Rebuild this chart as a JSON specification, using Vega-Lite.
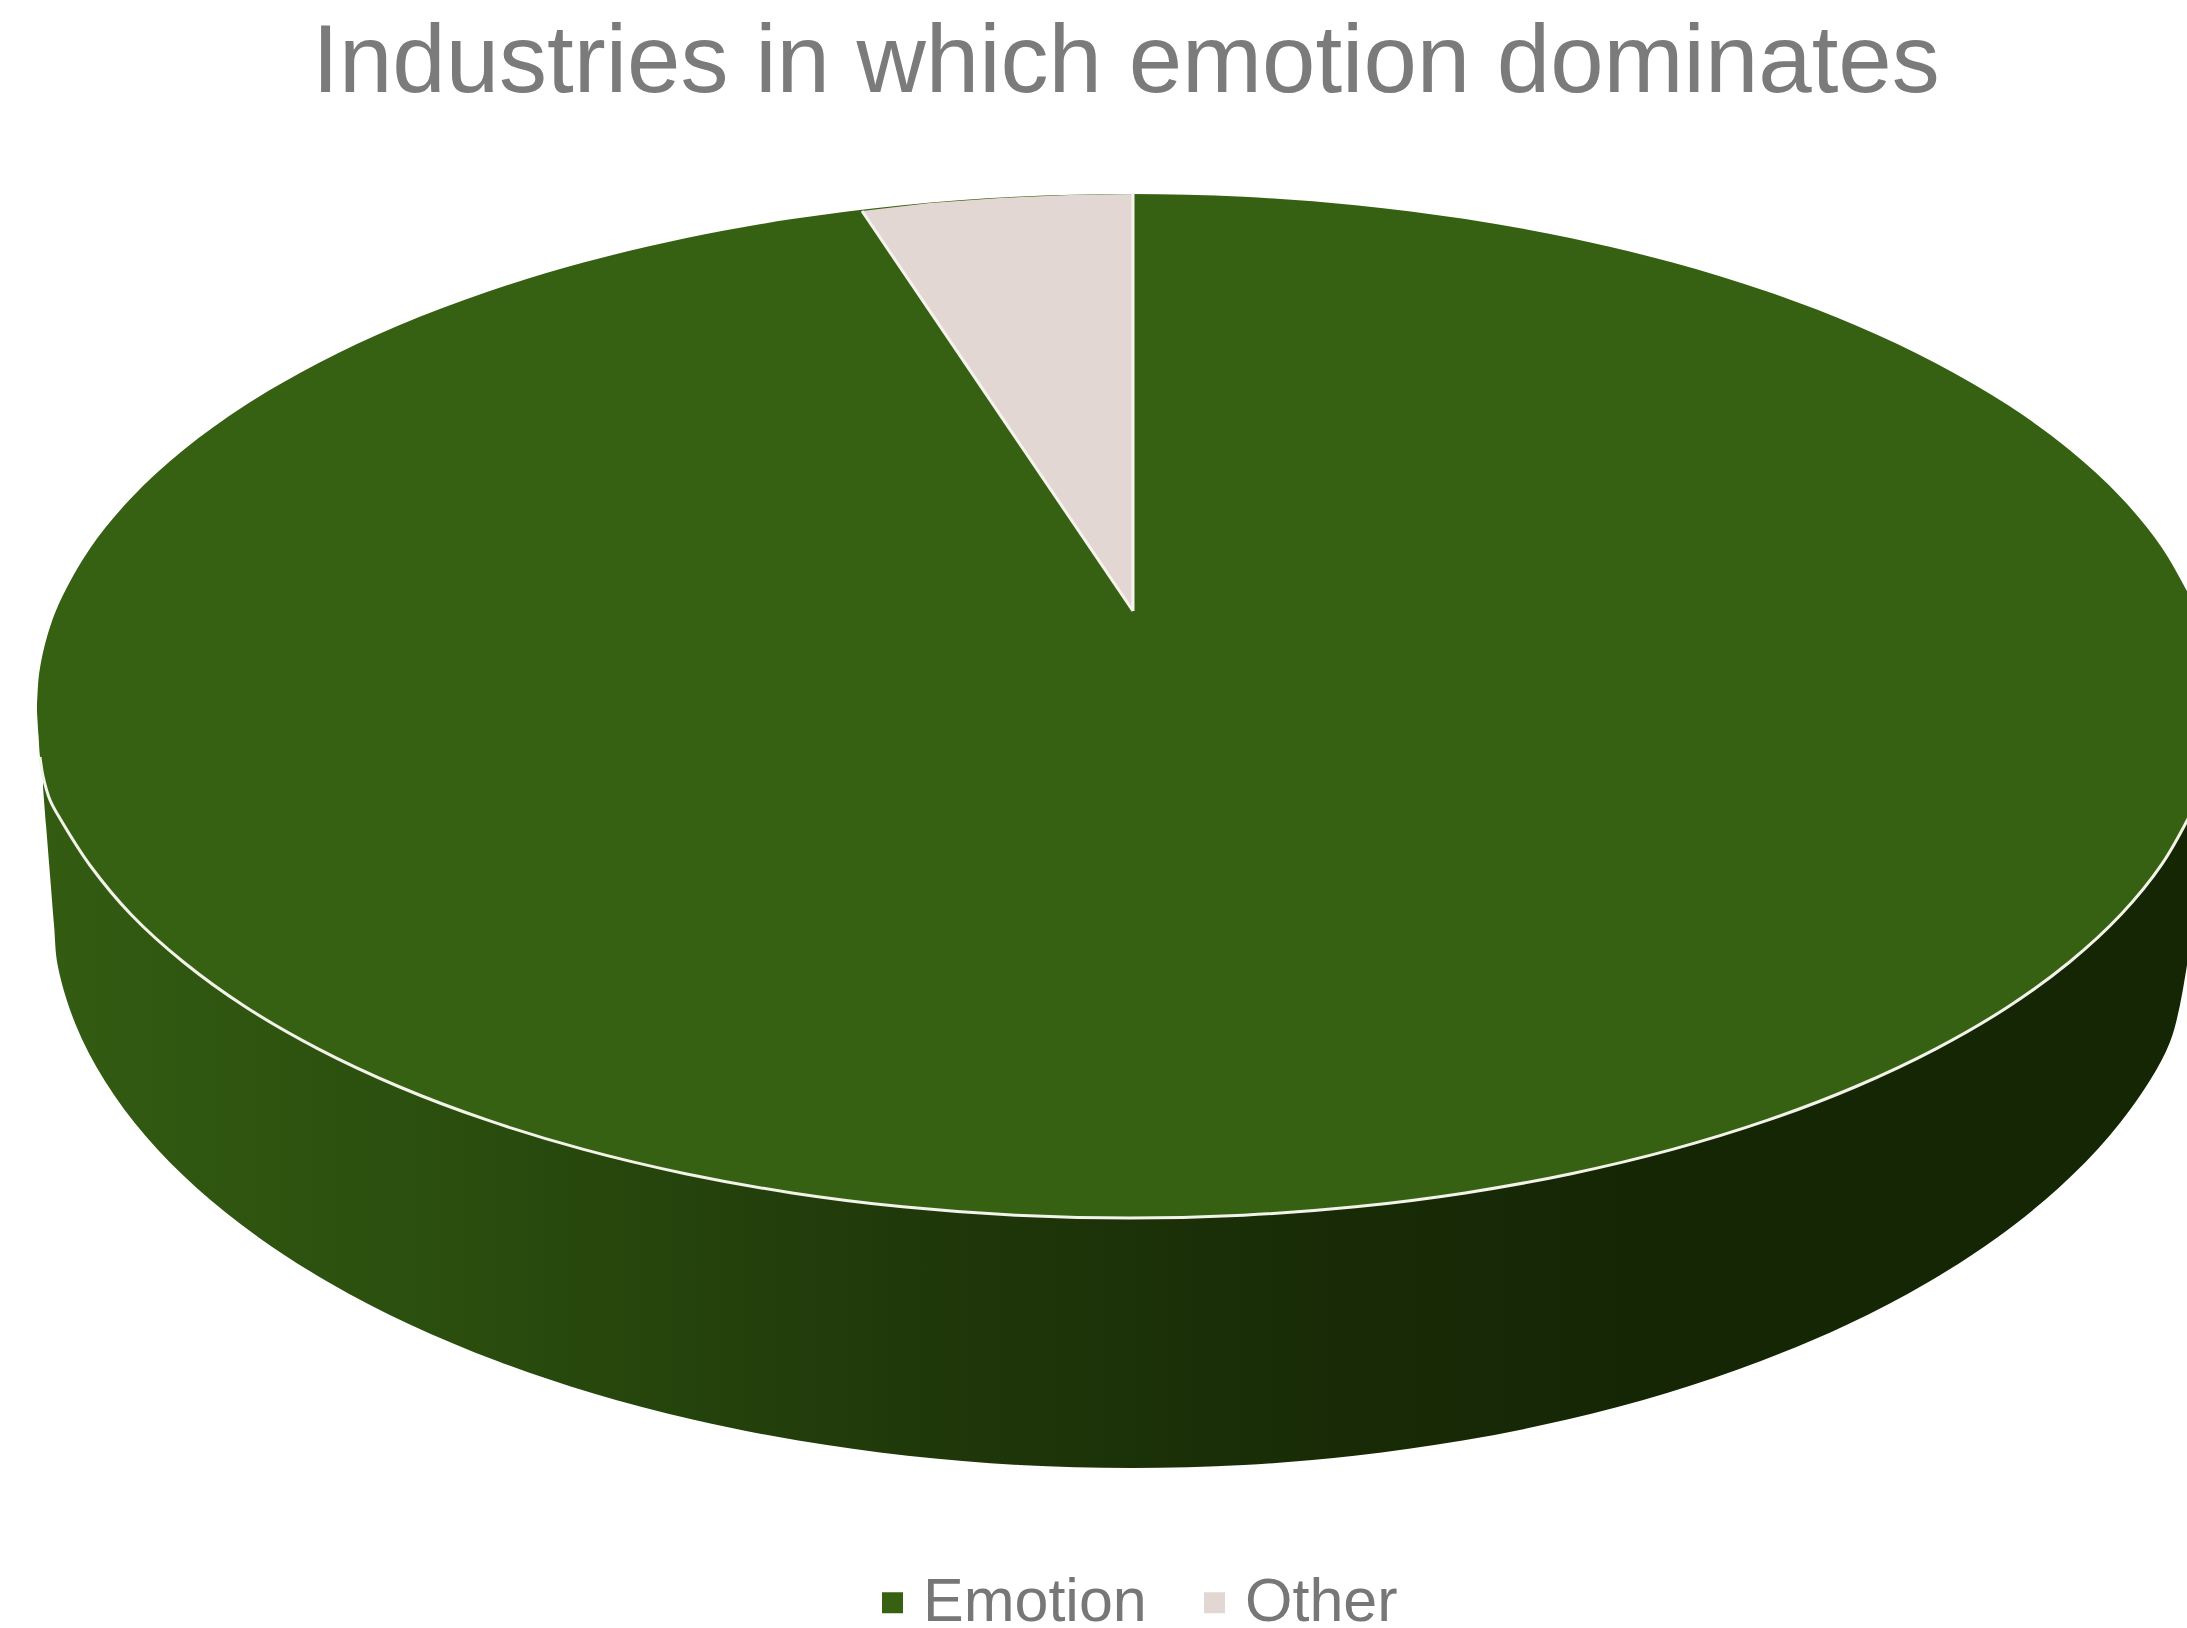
{
  "$schema": "https://vega.github.io/schema/vega-lite/v6.json",
  "width": 2187,
  "height": 1628,
  "padding": 0,
  "autosize": {"type": "none"},
  "background": "#ffffff",
  "config": {"view": {"stroke": null}},
  "datasets": {
    "heading": [
      {"label": "Industries in which emotion dominates"}
    ],
    "side": [
      {"x": 43, "upper": 770, "lower": 787},
      {"x": 46, "upper": 770, "lower": 825},
      {"x": 50, "upper": 770, "lower": 875},
      {"x": 54, "upper": 770, "lower": 925},
      {"x": 57.9, "upper": 770, "lower": 966.5},
      {"x": 75.6, "upper": 770, "lower": 1024.4},
      {"x": 104.9, "upper": 770, "lower": 1081},
      {"x": 145.4, "upper": 770, "lower": 1135.8},
      {"x": 196.7, "upper": 770, "lower": 1188},
      {"x": 258.3, "upper": 770, "lower": 1237.2},
      {"x": 329.4, "upper": 770, "lower": 1282.7},
      {"x": 409.3, "upper": 770, "lower": 1324.2},
      {"x": 497.2, "upper": 770, "lower": 1361},
      {"x": 592, "upper": 770, "lower": 1393},
      {"x": 692.7, "upper": 770, "lower": 1419.6},
      {"x": 798.3, "upper": 770, "lower": 1440.6},
      {"x": 907.5, "upper": 770, "lower": 1455.8},
      {"x": 1019.1, "upper": 770, "lower": 1465},
      {"x": 1132, "upper": 770, "lower": 1468},
      {"x": 1243.8, "upper": 770, "lower": 1465},
      {"x": 1354.5, "upper": 770, "lower": 1455.8},
      {"x": 1462.7, "upper": 770, "lower": 1440.6},
      {"x": 1567.2, "upper": 770, "lower": 1419.6},
      {"x": 1667, "upper": 770, "lower": 1393},
      {"x": 1760.9, "upper": 770, "lower": 1361},
      {"x": 1848, "upper": 770, "lower": 1324.2},
      {"x": 1927.2, "upper": 770, "lower": 1282.7},
      {"x": 1997.6, "upper": 770, "lower": 1237.2},
      {"x": 2058.6, "upper": 770, "lower": 1188},
      {"x": 2109.5, "upper": 770, "lower": 1135.8},
      {"x": 2149.6, "upper": 770, "lower": 1081},
      {"x": 2170, "upper": 770, "lower": 1042},
      {"x": 2180, "upper": 770, "lower": 1005},
      {"x": 2187, "upper": 770, "lower": 965}
    ],
    "face": [
      {"x": 37, "top": 706, "bottom": 712, "slice": "Emotion"},
      {"x": 38.5, "top": 679, "bottom": 735, "slice": "Emotion"},
      {"x": 40, "top": 668, "bottom": 757, "slice": "Emotion"},
      {"x": 43, "top": 652.5, "bottom": 776, "slice": "Emotion"},
      {"x": 50, "top": 627, "bottom": 800, "slice": "Emotion"},
      {"x": 60.9, "top": 599.5, "bottom": 820, "slice": "Emotion"},
      {"x": 90.5, "top": 547.8, "bottom": 866, "slice": "Emotion"},
      {"x": 131.5, "top": 497.7, "bottom": 915, "slice": "Emotion"},
      {"x": 183.4, "top": 450, "bottom": 962, "slice": "Emotion"},
      {"x": 245.7, "top": 405, "bottom": 1007, "slice": "Emotion"},
      {"x": 317.7, "top": 363.4, "bottom": 1048.6, "slice": "Emotion"},
      {"x": 398.6, "top": 325.5, "bottom": 1086.5, "slice": "Emotion"},
      {"x": 487.6, "top": 291.8, "bottom": 1120.2, "slice": "Emotion"},
      {"x": 583.5, "top": 262.6, "bottom": 1149.4, "slice": "Emotion"},
      {"x": 685.4, "top": 238.3, "bottom": 1173.7, "slice": "Emotion"},
      {"x": 792.2, "top": 219.1, "bottom": 1192.9, "slice": "Emotion"},
      {"x": 902.8, "top": 205.2, "bottom": 1206.8, "slice": "Emotion"},
      {"x": 1015.7, "top": 196.8, "bottom": 1215.2, "slice": "Emotion"},
      {"x": 1130, "top": 194, "bottom": 1218, "slice": "Emotion"},
      {"x": 1243.4, "top": 196.8, "bottom": 1215.2, "slice": "Emotion"},
      {"x": 1355.6, "top": 205.2, "bottom": 1206.8, "slice": "Emotion"},
      {"x": 1465.3, "top": 219.1, "bottom": 1192.9, "slice": "Emotion"},
      {"x": 1571.3, "top": 238.3, "bottom": 1173.7, "slice": "Emotion"},
      {"x": 1672.5, "top": 262.6, "bottom": 1149.4, "slice": "Emotion"},
      {"x": 1767.8, "top": 291.8, "bottom": 1120.2, "slice": "Emotion"},
      {"x": 1856, "top": 325.5, "bottom": 1086.5, "slice": "Emotion"},
      {"x": 1936.3, "top": 363.4, "bottom": 1048.6, "slice": "Emotion"},
      {"x": 2007.8, "top": 405, "bottom": 1007, "slice": "Emotion"},
      {"x": 2069.6, "top": 450, "bottom": 962, "slice": "Emotion"},
      {"x": 2121.2, "top": 497.7, "bottom": 914.3, "slice": "Emotion"},
      {"x": 2161.9, "top": 547.8, "bottom": 864.2, "slice": "Emotion"},
      {"x": 2191.3, "top": 599.5, "bottom": 812.5, "slice": "Emotion"}
    ],
    "wedge": [
      {"x": 862, "top": 211, "bottom": 211, "slice": "Other"},
      {"x": 930, "top": 203, "bottom": 311, "slice": "Other"},
      {"x": 1000, "top": 198, "bottom": 414, "slice": "Other"},
      {"x": 1070, "top": 195, "bottom": 517, "slice": "Other"},
      {"x": 1133, "top": 194, "bottom": 611, "slice": "Other"}
    ],
    "wedgeEdges": [
      {"x": 862, "y": 211, "x2": 1133, "y2": 611},
      {"x": 1133, "y": 611, "x2": 1133, "y2": 193}
    ]
  },
  "layer": [
    {
      "data": {"name": "side"},
      "mark": {
        "type": "area",
        "orient": "vertical",
        "interpolate": "catmull-rom",
        "clip": true,
        "color": {
          "gradient": "linear",
          "x1": 0, "y1": 0, "x2": 1, "y2": 0,
          "stops": [
            {"offset": 0, "color": "#335c12"},
            {"offset": 0.2, "color": "#2a4d0e"},
            {"offset": 0.4, "color": "#20390a"},
            {"offset": 0.6, "color": "#182b06"},
            {"offset": 0.75, "color": "#152605"},
            {"offset": 1, "color": "#152605"}
          ]
        }
      },
      "encoding": {
        "x": {"field": "x", "type": "quantitative", "scale": {"domain": [0, 2187], "nice": false, "zero": false}, "axis": null},
        "y": {"field": "upper", "type": "quantitative", "stack": null, "scale": {"domain": [1628, 0], "nice": false, "zero": false}, "axis": null},
        "y2": {"field": "lower"}
      }
    },
    {
      "data": {"name": "face"},
      "mark": {"type": "area", "orient": "vertical", "interpolate": "catmull-rom", "clip": true},
      "encoding": {
        "x": {"field": "x", "type": "quantitative"},
        "y": {"field": "top", "type": "quantitative", "stack": null},
        "y2": {"field": "bottom"},
        "color": {"field": "slice", "type": "nominal"}
      }
    },
    {
      "data": {"name": "face"},
      "transform": [{"filter": "datum.x >= 40"}],
      "mark": {"type": "line", "interpolate": "catmull-rom", "clip": true, "color": "#f3f3ea", "strokeWidth": 3},
      "encoding": {
        "x": {"field": "x", "type": "quantitative"},
        "y": {"field": "bottom", "type": "quantitative"}
      }
    },
    {
      "data": {"name": "wedge"},
      "mark": {"type": "area", "orient": "vertical", "interpolate": "linear"},
      "encoding": {
        "x": {"field": "x", "type": "quantitative"},
        "y": {"field": "top", "type": "quantitative", "stack": null},
        "y2": {"field": "bottom"},
        "color": {
          "field": "slice",
          "type": "nominal",
          "scale": {"domain": ["Emotion", "Other"], "range": ["#366112", "#e2d7d3"]},
          "legend": {
            "orient": "none",
            "legendX": 862,
            "legendY": 1572,
            "direction": "horizontal",
            "columns": 2,
            "title": null,
            "symbolType": "square",
            "symbolSize": 441,
            "symbolStrokeWidth": 0,
            "labelFont": "Liberation Sans",
            "labelFontSize": 61,
            "labelColor": "#777777",
            "labelOffset": 0,
            "columnPadding": 37,
            "labelLimit": 400
          }
        }
      }
    },
    {
      "data": {"name": "wedgeEdges"},
      "mark": {"type": "rule", "color": "#f6f3ee", "strokeWidth": 3},
      "encoding": {
        "x": {"field": "x", "type": "quantitative"},
        "y": {"field": "y", "type": "quantitative"},
        "x2": {"field": "x2"},
        "y2": {"field": "y2"}
      }
    },
    {
      "data": {"name": "heading"},
      "mark": {
        "type": "text",
        "font": "Liberation Sans",
        "fontSize": 96,
        "color": "#7b7b7b",
        "align": "center",
        "baseline": "alphabetic"
      },
      "encoding": {
        "x": {"datum": 1126},
        "y": {"datum": 92},
        "text": {"field": "label", "type": "nominal"}
      }
    }
  ]
}
